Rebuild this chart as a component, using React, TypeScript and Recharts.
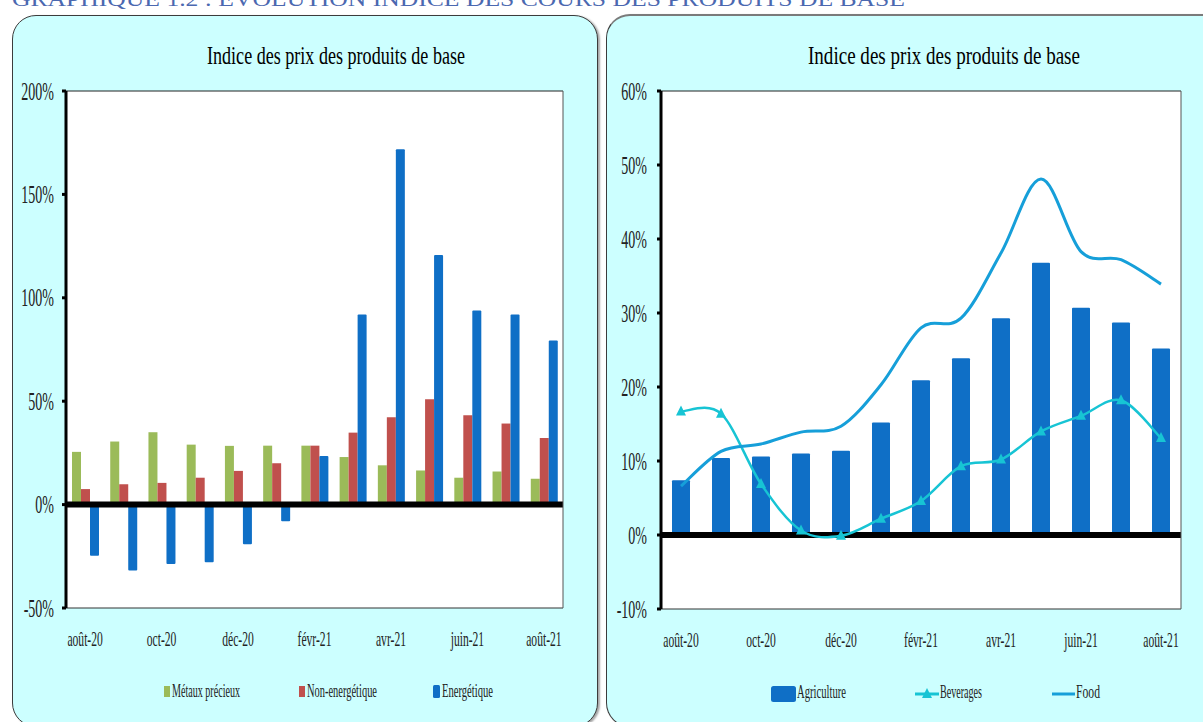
import { Bar, BarChart, CartesianGrid, ComposedChart, Line, ReferenceLine, XAxis, YAxis } from "recharts"

const months = [
  "août-20", "sept-20", "oct-20", "nov-20", "déc-20", "janv-21", "févr-21",
  "mars-21", "avr-21", "mai-21", "juin-21", "juil-21", "août-21",
]

// graphique de gauche (%)
const metauxPrecieux = [25.5, 30.5, 35, 29, 28.4, 28.5, 28.5, 23, 19, 16.5, 13, 16, 12.5]
const nonEnergetique = [7.5, 9.8, 10.5, 13, 16.3, 20, 28.5, 34.8, 42.2, 50.9, 43.2, 39.2, 32.2]
const energetique = [-24.7, -31.9, -28.7, -27.9, -19.2, -8, 23.5, 91.9, 171.8, 120.7, 93.8, 91.9, 79.3]
const leftTicks = [-50, 0, 50, 100, 150, 200]

// graphique de droite (%)
const agriculture = [7.4, 10.4, 10.6, 11, 11.4, 15.2, 20.9, 23.9, 29.3, 36.8, 30.7, 28.7, 25.2]
const beverages = [16.7, 16.4, 6.9, 0.6, -0.1, 2.2, 4.6, 9.3, 10.2, 14, 16.1, 18.2, 13.1]
const food = [6.6, 11.3, 12.3, 13.9, 14.7, 20.3, 28, 29.3, 38.1, 48.1, 38.3, 37.2, 33.9]
const rightTicks = [-10, 0, 10, 20, 30, 40, 50, 60]

const GREEN = "#9bbb59"
const RED = "#c0504d"
const BLUE = "#0f6fc6"
const BEV = "#17c4d4"
const FOOD = "#169fd9"
const FONT = "Liberation Serif"

const leftData = months.map((month, i) => ({
  month,
  metaux: metauxPrecieux[i],
  nonEnergetique: nonEnergetique[i],
  energetique: energetique[i],
}))

const rightData = months.map((month, i) => ({
  month,
  agriculture: agriculture[i],
  beverages: beverages[i],
  food: food[i],
}))

// lissage façon Excel (Catmull-Rom)
const excelSmooth = (context: any) => {
  let pts: number[][] = []
  return {
    areaStart() {},
    areaEnd() {},
    lineStart() {
      pts = []
    },
    lineEnd() {
      const n = pts.length
      if (!n) return
      context.moveTo(pts[0][0], pts[0][1])
      for (let i = 0; i < n - 1; i++) {
        const p0 = pts[Math.max(i - 1, 0)]
        const p1 = pts[i]
        const p2 = pts[i + 1]
        const p3 = pts[Math.min(i + 2, n - 1)]
        context.bezierCurveTo(
          p1[0] + (p2[0] - p0[0]) / 6,
          p1[1] + (p2[1] - p0[1]) / 6,
          p2[0] - (p3[0] - p1[0]) / 6,
          p2[1] - (p3[1] - p1[1]) / 6,
          p2[0],
          p2[1]
        )
      }
    },
    point(x: number, y: number) {
      pts.push([+x, +y])
    },
  }
}

function YTick(props: any) {
  const { x, y, payload } = props
  return (
    <g transform={`translate(${x},${y})`}>
      <text transform="scale(0.56,1)" textAnchor="end" dominantBaseline="central" fontSize={25} fill="#222" fontFamily={FONT}>
        {`${payload.value}%`}
      </text>
    </g>
  )
}

function XTick(props: any) {
  const { x, y, payload } = props
  return (
    <g transform={`translate(${x},${y + 36})`}>
      <text transform="scale(0.58,1)" textAnchor="middle" fontSize={20} fill="#222" fontFamily={FONT}>
        {payload.value}
      </text>
    </g>
  )
}

function Triangle(props: any) {
  const { cx, cy, index } = props
  if (cx == null || cy == null) return null
  return <polygon key={index} points={`${cx},${cy - 6} ${cx + 5},${cy + 4} ${cx - 5},${cy + 4}`} fill={BEV} />
}

const panelStyle = {
  position: "absolute" as const,
  background: "#ccffff",
  border: "1px solid #3c3c3c",
  borderRadius: 24,
  boxShadow: "2px 1px 2px rgba(0,0,0,0.35)",
}

export default function App() {
  return (
    <div style={{ position: "fixed", left: 0, top: 0, width: 1203, height: 722, overflow: "hidden", background: "#fff", fontFamily: FONT }}>
      <div style={{ ...panelStyle, left: 12, top: 15, width: 584, height: 710 }} />
      <div style={{ ...panelStyle, left: 606, top: 14, width: 620, height: 710, borderTop: "2px solid #7a7a7a" }} />

      <div style={{ position: "absolute", left: 0, top: 0 }}>
        <BarChart width={600} height={722} data={leftData} margin={{ top: 90, right: 36, bottom: 113, left: 0 }} barGap={0} barSize={9}>
          <CartesianGrid horizontal={false} vertical={false} fill="#fff" />
          <XAxis dataKey="month" height={1} interval={1} tickSize={0} tickLine={false} tick={<XTick />} axisLine={{ stroke: "#333" }} />
          <XAxis xAxisId="top" dataKey="month" orientation="top" height={1} tick={false} tickLine={false} axisLine={{ stroke: "#222" }} />
          <YAxis
            width={66}
            domain={[-50, 200]}
            ticks={leftTicks}
            interval={0}
            tick={<YTick />}
            tickSize={4}
            tickMargin={8}
            tickLine={{ stroke: "#000", strokeWidth: 3 }}
            axisLine={{ stroke: "#000", strokeWidth: 3 }}
          />
          <YAxis yAxisId="r" orientation="right" width={1} domain={[-50, 200]} tick={false} tickLine={false} axisLine={{ stroke: "#555" }} />
          <Bar dataKey="metaux" name="Métaux précieux" fill={GREEN} isAnimationActive={false} />
          <Bar dataKey="nonEnergetique" name="Non-energétique" fill={RED} isAnimationActive={false} />
          <Bar dataKey="energetique" name="Energétique" fill={BLUE} radius={1} isAnimationActive={false} />
          <ReferenceLine y={0} stroke="#000" strokeWidth={6} />
        </BarChart>
      </div>

      <div style={{ position: "absolute", left: 600, top: 0 }}>
        <ComposedChart width={603} height={722} data={rightData} margin={{ top: 90, right: 21, bottom: 112, left: 0 }} barSize={18}>
          <CartesianGrid horizontal={false} vertical={false} fill="#fff" />
          <XAxis dataKey="month" height={1} interval={1} tickSize={0} tickLine={false} tick={<XTick />} axisLine={{ stroke: "#333" }} />
          <XAxis xAxisId="top" dataKey="month" orientation="top" height={1} tick={false} tickLine={false} axisLine={{ stroke: "#222" }} />
          <YAxis
            width={61}
            domain={[-10, 60]}
            ticks={rightTicks}
            interval={0}
            tick={<YTick />}
            tickSize={4}
            tickMargin={10}
            tickLine={{ stroke: "#000", strokeWidth: 3 }}
            axisLine={{ stroke: "#000", strokeWidth: 3 }}
          />
          <YAxis yAxisId="r" orientation="right" width={1} domain={[-10, 60]} tick={false} tickLine={false} axisLine={{ stroke: "#555" }} />
          <Bar dataKey="agriculture" name="Agriculture" fill={BLUE} radius={1} isAnimationActive={false} />
          <ReferenceLine y={0} stroke="#000" strokeWidth={6} />
          <Line dataKey="beverages" name="Beverages" type={excelSmooth as any} stroke={BEV} strokeWidth={2.5} dot={<Triangle />} activeDot={false} isAnimationActive={false} />
          <Line dataKey="food" name="Food" type={excelSmooth as any} stroke={FOOD} strokeWidth={3} dot={false} activeDot={false} isAnimationActive={false} />
        </ComposedChart>
      </div>

      <svg width={1203} height={722} style={{ position: "absolute", left: 0, top: 0, pointerEvents: "none" }} fontFamily={FONT}>
        <text x={12} y={6} fontSize={22} fill="#4b68b0" textLength={893} lengthAdjust="spacingAndGlyphs">
          GRAPHIQUE 1.2 : ÉVOLUTION INDICE DES COURS DES PRODUITS DE BASE
        </text>
        <text x={207} y={64} fontSize={26} fill="#000" textLength={258} lengthAdjust="spacingAndGlyphs">
          Indice des prix des produits de base
        </text>
        <text x={808} y={64} fontSize={26} fill="#000" textLength={272} lengthAdjust="spacingAndGlyphs">
          Indice des prix des produits de base
        </text>

        <rect x={164} y={686} width={6} height={11} fill={GREEN} />
        <text x={172} y={697} fontSize={18} fill="#222" textLength={68} lengthAdjust="spacingAndGlyphs">Métaux précieux</text>
        <rect x={299} y={686} width={6} height={11} fill={RED} />
        <text x={307} y={697} fontSize={18} fill="#222" textLength={70} lengthAdjust="spacingAndGlyphs">Non-energétique</text>
        <rect x={433} y={685} width={7} height={13} rx={1.5} fill={BLUE} />
        <text x={442} y={697} fontSize={18} fill="#222" textLength={51} lengthAdjust="spacingAndGlyphs">Energétique</text>

        <rect x={771} y={686} width={25} height={16} rx={2.5} fill={BLUE} />
        <text x={797} y={698} fontSize={18} fill="#222" textLength={49} lengthAdjust="spacingAndGlyphs">Agriculture</text>
        <line x1={915} x2={939} y1={694} y2={694} stroke={BEV} strokeWidth={3} />
        <polygon points="927,688 932,698 922,698" fill={BEV} />
        <text x={940} y={698} fontSize={18} fill="#222" textLength={42} lengthAdjust="spacingAndGlyphs">Beverages</text>
        <line x1={1052} x2={1075} y1={694} y2={694} stroke={FOOD} strokeWidth={3} />
        <text x={1076} y={698} fontSize={18} fill="#222" textLength={24} lengthAdjust="spacingAndGlyphs">Food</text>
      </svg>
    </div>
  )
}
